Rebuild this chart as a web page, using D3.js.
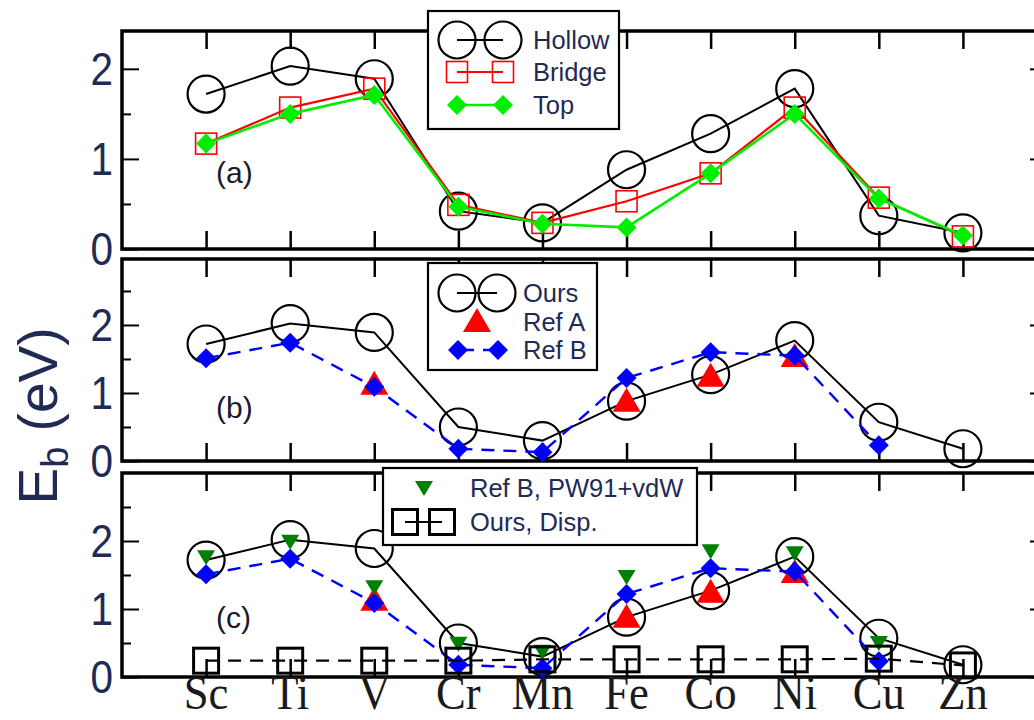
<!DOCTYPE html>
<html><head><meta charset="utf-8">
<script src="https://cdn.jsdelivr.net/npm/d3@7"></script>
<style>body{margin:0;background:#fff}svg{display:block}</style>
</head><body>
<svg id="c" width="1034" height="720"></svg>
<script>
// ---------- data ----------
const elements = ["Sc","Ti","V","Cr","Mn","Fe","Co","Ni","Cu","Zn"];
const yTicksMajor = [0,1,2];
// panel (a)
const hollow = [1.72,2.03,1.89,0.42,0.29,0.88,1.28,1.78,0.37,0.18];
const bridge = [1.17,1.57,1.78,0.49,0.29,0.53,0.84,1.57,0.57,0.14];
const top_   = [1.17,1.50,1.71,0.47,0.28,0.24,0.84,1.50,0.56,0.15];
// panels (b) and (c)
const ours   = [1.72,2.02,1.89,0.50,0.30,0.88,1.27,1.77,0.57,0.18];
const refA   = [null,null,1.12,null,null,0.87,1.24,1.53,null,null];
const refB   = [1.51,1.74,1.09,0.18,0.13,1.22,1.60,1.55,0.23,null];
const refBvdW= [1.76,1.99,1.32,0.49,0.37,1.47,1.85,1.82,0.50,null];
const oursDisp=[0.24,0.24,0.24,0.24,0.26,0.26,0.26,0.26,0.27,0.17];
const legendA = ["Hollow","Bridge","Top"];
const legendB = ["Ours","Ref A","Ref B"];
const legendC = ["Ref B, PW91+vdW","Ours, Disp."];
const panelLabels = ["(a)","(b)","(c)"];

// ---------- layout ----------
const svg = d3.select("#c");
const X0 = 122, X1 = 1047;
const x = d3.scaleLinear().domain([-1, 10]).range([X0, X1]);
const panels = [
  {top:31,  bottom:249, ymax:2.42},
  {top:259, bottom:461, ymax:2.97},
  {top:473, bottom:677, ymax:3.0}
];
panels.forEach(p => { p.y = d3.scaleLinear().domain([0, p.ymax]).range([p.bottom, p.top]); });

const txtCol = "#1f2a55";
const sans = "Liberation Sans, Arial, sans-serif";

// ---------- frames and axes ----------
panels.forEach((p, pi) => {
  const g = svg.append("g");
  const idx = d3.range(elements.length);
  g.append("g").attr("transform",`translate(0,${p.bottom})`)
    .call(d3.axisTop(x).tickValues(idx).tickSize(18).tickFormat(""))
    .call(a => a.select(".domain").remove())
    .selectAll("line").attr("stroke","#000").attr("stroke-width",2.5);
  g.append("g").attr("transform",`translate(0,${p.top})`)
    .call(d3.axisBottom(x).tickValues(idx).tickSize(18).tickFormat(""))
    .call(a => a.select(".domain").remove())
    .selectAll("line").attr("stroke","#000").attr("stroke-width",2.5);
  const minor = d3.range(0.5, p.ymax, 1);
  g.append("g").attr("transform",`translate(${X0},0)`)
    .call(d3.axisRight(p.y).tickValues(yTicksMajor).tickSize(17).tickFormat(""))
    .call(a => a.select(".domain").remove())
    .selectAll("line").attr("stroke","#000").attr("stroke-width",2);
  g.append("g").attr("transform",`translate(${X0},0)`)
    .call(d3.axisRight(p.y).tickValues(minor).tickSize(9).tickFormat(""))
    .call(a => a.select(".domain").remove())
    .selectAll("line").attr("stroke","#000").attr("stroke-width",2);
  g.append("g").attr("transform",`translate(${X1},0)`)
    .call(d3.axisLeft(p.y).tickValues(yTicksMajor).tickSize(17).tickFormat(""))
    .call(a => a.select(".domain").remove())
    .selectAll("line").attr("stroke","#000").attr("stroke-width",2);
  g.selectAll("text.yl").data(yTicksMajor).enter().append("text")
    .attr("transform", d => `translate(113,${p.y(d) + 16}) scale(0.92,1.04)`)
    .attr("text-anchor","end").attr("font-family",sans).attr("font-size",44)
    .attr("fill",txtCol).text(d => d);
  g.append("rect").attr("x",X0).attr("y",p.top).attr("width",X1-X0).attr("height",p.bottom-p.top)
    .attr("fill","none").attr("stroke","#000").attr("stroke-width",3.5);
  g.append("text").attr("x",216).attr("y",[183,418,628][pi])
    .attr("font-family",sans).attr("font-size",30).attr("fill","#1a1a2a").text(panelLabels[pi]);
});

// ---------- marker helpers ----------
function drawLine(g, p, vals, color, width, dash) {
  const line = d3.line().defined(d => d != null).x((d,i) => x(i)).y(d => p.y(d));
  g.append("path").datum(vals).attr("d", line).attr("fill","none")
    .attr("stroke",color).attr("stroke-width",width).attr("stroke-dasharray",dash||null);
}
function pts(vals){ return vals.map((v,i)=>({v,i})).filter(d=>d.v!=null); }
const sym = {
  circle: (g,cx,cy) => g.append("circle").attr("cx",cx).attr("cy",cy).attr("r",18.5).attr("fill","none").attr("stroke","#000").attr("stroke-width",2.2),
  square: (g,cx,cy) => g.append("rect").attr("x",cx-10.5).attr("y",cy-10.5).attr("width",21).attr("height",21).attr("fill","none").attr("stroke","#ff0000").attr("stroke-width",1.6),
  diamondG: (g,cx,cy) => g.append("path").attr("d",`M${cx},${cy-10}L${cx+10},${cy}L${cx},${cy+10}L${cx-10},${cy}Z`).attr("fill","#00ee00"),
  diamondB: (g,cx,cy) => g.append("path").attr("d",`M${cx},${cy-10}L${cx+10},${cy}L${cx},${cy+10}L${cx-10},${cy}Z`).attr("fill","#0000ff"),
  triUp: (g,cx,cy) => g.append("path").attr("d",`M${cx},${cy-14}L${cx+14},${cy+10}L${cx-14},${cy+10}Z`).attr("fill","#ff0000"),
  triDown: (g,cx,cy) => g.append("path").attr("d",`M${cx-9},${cy-7}L${cx+9},${cy-7}L${cx},${cy+8}Z`).attr("fill","#008000"),
  sqBlack: (g,cx,cy) => g.append("rect").attr("x",cx-12.5).attr("y",cy-12.5).attr("width",25).attr("height",25).attr("fill","none").attr("stroke","#000").attr("stroke-width",3)
};
function drawPts(g, p, vals, s) { pts(vals).forEach(d => sym[s](g, x(d.i), p.y(d.v))); }

// ---------- panel (a) ----------
{
  const p = panels[0], g = svg.append("g");
  drawLine(g,p,hollow,"#000",2);      drawPts(g,p,hollow,"circle");
  drawLine(g,p,bridge,"#ff0000",2.2); drawPts(g,p,bridge,"square");
  drawLine(g,p,top_,"#00ee00",2.6);   drawPts(g,p,top_,"diamondG");
}
// ---------- panel (b) ----------
{
  const p = panels[1], g = svg.append("g");
  drawLine(g,p,ours,"#000",2);  drawPts(g,p,ours,"circle");
  drawPts(g,p,refA,"triUp");
  drawLine(g,p,refB,"#0000ff",2.4,"13,9"); drawPts(g,p,refB,"diamondB");
}
// ---------- panel (c) ----------
{
  const p = panels[2], g = svg.append("g");
  drawLine(g,p,ours,"#000",2);  drawPts(g,p,ours,"circle");
  drawPts(g,p,refA,"triUp");
  drawLine(g,p,refB,"#0000ff",2.4,"13,9"); drawPts(g,p,refB,"diamondB");
  drawPts(g,p,refBvdW,"triDown");
  drawLine(g,p,oursDisp,"#000",2.2,"13,9"); drawPts(g,p,oursDisp,"sqBlack");
}

// ---------- legends ----------
function legendBox(x0,y0,w,h){ svg.append("rect").attr("x",x0).attr("y",y0).attr("width",w).attr("height",h).attr("fill","#fff").attr("stroke","#000").attr("stroke-width",2.2); }
function legText(tx,ty,t){ svg.append("text").attr("x",tx).attr("y",ty+9).attr("font-family",sans).attr("font-size",25.5).attr("fill",txtCol).text(t); }
{ // (a)
  legendBox(428,11,191,118);
  const g = svg.append("g");
  const ys=[40,72,105];
  g.append("line").attr("x1",457).attr("x2",503).attr("y1",ys[0]).attr("y2",ys[0]).attr("stroke","#000").attr("stroke-width",2);
  sym.circle(g,457,ys[0]); sym.circle(g,503,ys[0]);
  g.append("line").attr("x1",457).attr("x2",503).attr("y1",ys[1]).attr("y2",ys[1]).attr("stroke","#ff0000").attr("stroke-width",2.2);
  sym.square(g,457,ys[1]); sym.square(g,503,ys[1]);
  g.append("line").attr("x1",457).attr("x2",503).attr("y1",ys[2]).attr("y2",ys[2]).attr("stroke","#00ee00").attr("stroke-width",2.6);
  sym.diamondG(g,457,ys[2]); sym.diamondG(g,503,ys[2]);
  legendA.forEach((t,i)=>legText(533,ys[i],t));
}
{ // (b)
  legendBox(428,263,169,107);
  const g = svg.append("g");
  const ys=[293,322,350];
  g.append("line").attr("x1",457).attr("x2",497).attr("y1",ys[0]).attr("y2",ys[0]).attr("stroke","#000").attr("stroke-width",2);
  sym.circle(g,457,ys[0]); sym.circle(g,497,ys[0]);
  sym.triUp(g,477,ys[1]);
  g.append("line").attr("x1",458).attr("x2",498).attr("y1",ys[2]).attr("y2",ys[2]).attr("stroke","#0000ff").attr("stroke-width",2.4).attr("stroke-dasharray","13,9").attr("stroke-dashoffset",-3);
  sym.diamondB(g,458,ys[2]); sym.diamondB(g,498,ys[2]);
  legendB.forEach((t,i)=>legText(523,ys[i],t));
}
{ // (c)
  legendBox(383,468,314,77);
  const g = svg.append("g");
  const ys=[488,522];
  sym.triDown(g,424,ys[0]);
  g.append("line").attr("x1",405).attr("x2",442).attr("y1",ys[1]).attr("y2",ys[1]).attr("stroke","#000").attr("stroke-width",2.2);
  sym.sqBlack(g,405,ys[1]); sym.sqBlack(g,442,ys[1]);
  legendC.forEach((t,i)=>legText(470,ys[i],t));
}

// ---------- x tick labels ----------
svg.selectAll("text.xl").data(elements).enter().append("text")
  .attr("transform",(d,i)=>`translate(${x(i)},709) scale(0.97,1.06)`)
  .attr("text-anchor","middle").attr("font-family","Liberation Serif, Times New Roman, serif")
  .attr("font-size",46).attr("fill","#1a1a1a").text(d=>d);

// ---------- y title ----------
{
  const t = svg.append("text").attr("transform","translate(57,416) rotate(-90)")
    .attr("text-anchor","middle").attr("font-family",sans).attr("font-size",55).attr("fill",txtCol);
  t.append("tspan").text("E");
  t.append("tspan").attr("font-size",38).attr("dy",11).text("b");
  t.append("tspan").attr("dy",-11).text(" (eV)");
}
</script>
</body></html>
